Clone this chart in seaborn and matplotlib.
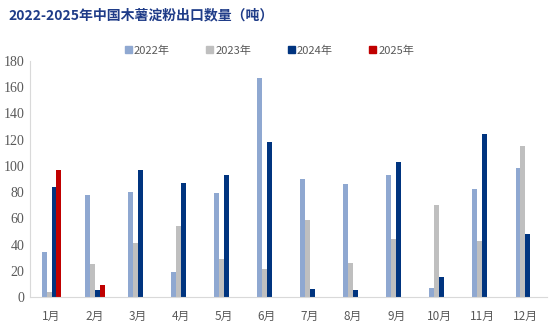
import matplotlib
matplotlib.use("Agg")
import matplotlib.pyplot as plt
from matplotlib.font_manager import FontProperties
import seaborn as sns
import pandas as pd
import numpy as np

months = ["1月", "2月", "3月", "4月", "5月", "6月", "7月", "8月", "9月", "10月", "11月", "12月"]
years = ["2022年", "2023年", "2024年", "2025年"]
v2022 = [34, 78, 80, 19, 79, 167, 90, 86, 93, 7, 82, 98]
v2023 = [4, 25, 41, 54, 29, 21, 59, 26, 44, 70, 43, 115]
v2024 = [84, 5, 97, 87, 93, 118, 6, 5, 103, 15, 124, 48]
v2025 = [97, 9, None, None, None, None, None, None, None, None, None, None]
yticks = [0, 20, 40, 60, 80, 100, 120, 140, 160, 180]
colors = ["#8FA8D1", "#BFBFBF", "#00347F", "#C00000"]

rows = []
for y, vals in zip(years, [v2022, v2023, v2024, v2025]):
    for m, v in zip(months, vals):
        rows.append({"month": m, "year": y, "value": np.nan if v is None else v})
df = pd.DataFrame(rows)

sns.set_theme(style="white")
plt.rcParams["font.family"] = ["Noto Sans CJK SC", "DejaVu Sans"]

fig = plt.figure(figsize=(5.5, 3.32), dpi=100)
ax = fig.add_axes([0.0545, 0.1054, 0.94, 0.711])
sns.barplot(data=df, x="month", y="value", hue="year", order=months, hue_order=years,
            palette=colors, width=0.46, saturation=1, ax=ax, legend=False, errorbar=None,
            linewidth=0, edgecolor="none")

ax.set_ylim(0, 180)
ax.set_xlim(-0.5, 11.5)
ax.set_xlabel("")
ax.set_ylabel("")
for s in ["top", "right"]:
    ax.spines[s].set_visible(False)
for s in ["left", "bottom"]:
    ax.spines[s].set_color("#D9D9D9")
    ax.spines[s].set_linewidth(0.8)
ax.tick_params(axis="x", which="major", length=0, pad=9, labelsize=8.5, labelcolor="#595959")
ax.set_xticks(np.arange(-0.5, 12, 1), minor=True)
ax.tick_params(axis="x", which="minor", length=4, color="#D9D9D9", width=0.8)
ax.tick_params(axis="y", length=0, pad=4, labelcolor="#595959")
serif = FontProperties(family="Liberation Serif", size=10)
ax.set_yticks(yticks)
ax.set_yticklabels([str(t) for t in yticks], fontproperties=serif)

fig.text(0.015, 0.955, "2022-2025年中国木薯淀粉出口数量（吨）", fontsize=10, fontweight="bold",
         color="#1F3C88", va="center", ha="left")

handles = [plt.Rectangle((0, 0), 1, 1, color=c) for c in colors]
fig.legend(handles, years, loc="center", bbox_to_anchor=(0.49, 0.848), ncol=4, frameon=False,
           fontsize=8, handlelength=0.6, handleheight=0.6, handletextpad=0.2, columnspacing=3.3,
           labelcolor="#595959")

fig.savefig("out.png", dpi=100)
